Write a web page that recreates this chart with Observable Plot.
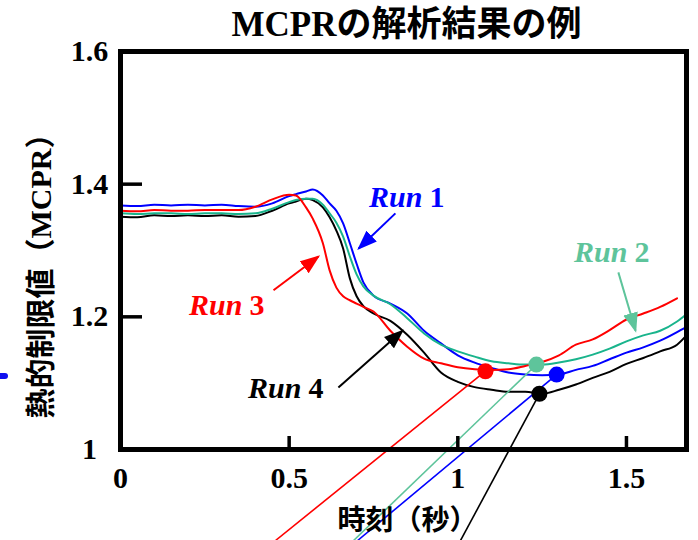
<!DOCTYPE html>
<html>
<head>
<meta charset="utf-8">
<script src="https://cdn.jsdelivr.net/npm/d3@7"></script>
<script src="https://cdn.jsdelivr.net/npm/@observablehq/plot@0.6"></script>
<style>
html, body { margin: 0; padding: 0; background: #fff; overflow: hidden; }
#chart { position: relative; width: 698px; height: 540px; overflow: hidden; }
#blip { position: absolute; left: 0; top: 373px; width: 8px; height: 6px; background: #1010f0; border-radius: 0 3px 3px 0; }
</style>
</head>
<body>
<div id="chart"><div id="blip"></div></div>
<script>
// ---------- data ----------
const title = "MCPRの解析結果の例";
const xLabel = "時刻（秒）";
const yLabel = "熱的制限値（MCPR）";
const xTicks = [0, 0.5, 1, 1.5];
const yTicks = [1, 1.2, 1.4, 1.6];
const innerXTicks = [0.5, 1, 1.5];
const innerYTicks = [1.2, 1.4];

const time = [0, 0.05, 0.1, 0.15, 0.2, 0.25, 0.3, 0.35, 0.4, 0.45,
  0.5, 0.52, 0.55, 0.57, 0.6, 0.62, 0.64, 0.66, 0.68, 0.7,
  0.72, 0.75, 0.8, 0.85, 0.9, 0.95, 1.0, 1.05, 1.1, 1.15,
  1.2, 1.25, 1.3, 1.35, 1.4, 1.45, 1.5, 1.55, 1.6, 1.65, 1.678];

const run1 = [1.368, 1.367, 1.369, 1.368, 1.369, 1.368, 1.369, 1.367, 1.366, 1.371,
  1.382, 1.385, 1.389, 1.392, 1.383, 1.371, 1.360, 1.341, 1.311, 1.280,
  1.252, 1.232, 1.220, 1.205, 1.179, 1.160, 1.142, 1.131, 1.123, 1.116,
  1.113, 1.112, 1.113, 1.120, 1.126, 1.136, 1.146, 1.154, 1.164, 1.177, 1.185];

const run2 = [1.356, 1.355, 1.356, 1.356, 1.355, 1.356, 1.356, 1.355, 1.356, 1.363,
  1.373, 1.376, 1.378, 1.378, 1.369, 1.356, 1.342, 1.321, 1.291, 1.264,
  1.246, 1.232, 1.219, 1.198, 1.175, 1.158, 1.148, 1.140, 1.133, 1.130,
  1.128, 1.128, 1.131, 1.136, 1.143, 1.152, 1.163, 1.172, 1.179, 1.193, 1.204];

const run3 = [1.360, 1.359, 1.361, 1.360, 1.360, 1.361, 1.361, 1.361, 1.366, 1.377,
  1.384, 1.383, 1.365, 1.348, 1.311, 1.270, 1.244, 1.231, 1.225, 1.220,
  1.215, 1.208, 1.179, 1.155, 1.137, 1.130, 1.124, 1.121, 1.120, 1.121,
  1.126, 1.132, 1.142, 1.158, 1.166, 1.180, 1.196, 1.205, 1.215, 1.228, null];

const run4 = [1.351, 1.350, 1.353, 1.352, 1.353, 1.352, 1.353, 1.351, 1.352, 1.360,
  1.371, 1.374, 1.378, 1.376, 1.365, 1.350, 1.330, 1.303, 1.258, 1.231,
  1.216, 1.205, 1.194, 1.173, 1.146, 1.116, 1.102, 1.094, 1.090, 1.087,
  1.087, 1.084, 1.090, 1.098, 1.108, 1.117, 1.129, 1.138, 1.148, 1.158, 1.172];

// runs in order Run 1, Run 2, Run 3, Run 4
const runNames = ["Run", "Run", "Run", "Run"];
const runNumbers = ["1", "2", "3", "4"];
const runValues = [run1, run2, run3, run4];

// marked point on each curve
const markT = [1.293, 1.233, 1.082, 1.242];
const markV = [1.113, 1.128, 1.118, 1.084];
// leader lines leaving each marked point (end below the axis)
const leaderEndT = [0.703, 0.691, 0.4595, 1.008];
const leaderEndV = [0.8628, 0.8628, 0.8628, 0.8628];

// annotation labels and arrows
const labelT = [0.898, 1.506, 0.3646, 0.5395];
const labelV = [1.380, 1.297, 1.217, 1.092];
const arrowFromT = [0.815, 1.476, 0.4536, 0.646];
const arrowFromV = [1.356, 1.267, 1.240, 1.0935];
const arrowToT = [0.706, 1.527, 0.587, 0.836];
const arrowToV = [1.303, 1.179, 1.291, 1.179];

// ---------- styles ----------
const lineColors = ["#0000ff", "#19b48c", "#ff0000", "#000000"];
const accentColors = ["#0000ff", "#5ec49b", "#ff0000", "#000000"];
const drawOrder = [3, 0, 1, 2];
const SERIF = "'Liberation Serif', 'Times New Roman', 'Noto Sans CJK JP', serif";
const MIX = "'Liberation Serif', 'Noto Sans CJK JP', serif";
const CJK = "'Noto Sans CJK JP', sans-serif";

const fmt = d => String(+(+d).toFixed(1));

function triangleHead(color, context) {
  const ns = "http://www.w3.org/2000/svg";
  const doc = (context && context.document) || document;
  const m = doc.createElementNS(ns, "marker");
  m.setAttribute("viewBox", "0 -8 20 16");
  m.setAttribute("markerWidth", 20);
  m.setAttribute("markerHeight", 16);
  m.setAttribute("markerUnits", "userSpaceOnUse");
  m.setAttribute("refX", 18);
  m.setAttribute("refY", 0);
  m.setAttribute("orient", "auto");
  const p = doc.createElementNS(ns, "path");
  p.setAttribute("d", "M0,-7.5L20,0L0,7.5Z");
  p.setAttribute("fill", color);
  p.setAttribute("stroke", "none");
  m.appendChild(p);
  return m;
}

// ---------- marks ----------
const marks = [];

// curves
for (const i of drawOrder) {
  const rows = time.map((t, k) => ({t, v: runValues[i][k]}));
  marks.push(Plot.line(rows, {x: "t", y: "v", stroke: lineColors[i], strokeWidth: 2, curve: "monotone-x"}));
}

// leader lines
for (let i = 0; i < 4; i++) {
  marks.push(Plot.link([i], {
    x1: () => markT[i], y1: () => markV[i], x2: () => leaderEndT[i], y2: () => leaderEndV[i],
    stroke: accentColors[i], strokeWidth: 1.6
  }));
}

// marked dots
for (let i = 0; i < 4; i++) {
  marks.push(Plot.dot([i], {x: () => markT[i], y: () => markV[i], r: 8, fill: accentColors[i], stroke: "none"}));
}

// annotation arrows
for (let i = 0; i < 4; i++) {
  marks.push(Plot.link([i], {
    x1: () => arrowFromT[i], y1: () => arrowFromV[i], x2: () => arrowToT[i], y2: () => arrowToV[i],
    stroke: accentColors[i], strokeWidth: 2, markerEnd: triangleHead
  }));
}

// annotation labels
for (let i = 0; i < 4; i++) {
  marks.push(Plot.text([i], {
    x: () => labelT[i], y: () => labelV[i], text: () => runNames[i],
    textAnchor: "end", dx: -1, fill: accentColors[i], fontFamily: SERIF,
    fontSize: 30, fontWeight: "bold", fontStyle: "italic"
  }));
  marks.push(Plot.text([i], {
    x: () => labelT[i], y: () => labelV[i], text: () => runNumbers[i],
    textAnchor: "start", dx: 6, fill: accentColors[i], fontFamily: SERIF,
    fontSize: 30, fontWeight: "bold"
  }));
}

// inward ticks
marks.push(Plot.tickY(innerYTicks, {y: d => d, insetRight: 566 - 22, stroke: "black", strokeWidth: 3.5}));
marks.push(Plot.tickX(innerXTicks, {x: d => d, insetTop: 398 - 13, stroke: "black", strokeWidth: 3.5}));

// frame
marks.push(Plot.frame({stroke: "black", strokeWidth: 5}));

// axes (labels only)
marks.push(Plot.axisY({ticks: yTicks, anchor: "left", tickSize: 0, tickPadding: 31, textAnchor: "middle",
  fontSize: 30, fontWeight: "bold", fontFamily: SERIF, tickFormat: fmt, label: null, fill: "black"}));
marks.push(Plot.axisX({ticks: xTicks, anchor: "bottom", tickSize: 0, tickPadding: 17,
  fontSize: 30, fontWeight: "bold", fontFamily: SERIF, tickFormat: fmt, label: null, fill: "black"}));

// titles
marks.push(Plot.text([title], {text: d => d, frameAnchor: "top", dy: -27, dx: 3, lineAnchor: "middle",
  textAnchor: "middle", fontSize: 35, fontWeight: "bold", fontFamily: MIX, fill: "black"}));
marks.push(Plot.text([yLabel], {text: d => d, frameAnchor: "left", rotate: -90, dx: -79, dy: 18,
  lineAnchor: "middle", textAnchor: "middle", fontSize: 30, fontWeight: "bold", fontFamily: MIX, fill: "black"}));
marks.push(Plot.text([xLabel], {text: d => d, frameAnchor: "bottom", dy: 72, dx: 4, lineAnchor: "middle",
  textAnchor: "middle", fontSize: 28, fontWeight: "bold", fontFamily: CJK, fill: "black"}));

const plot = Plot.plot({
  width: 698,
  height: 540,
  marginTop: 51,
  marginRight: 12,
  marginBottom: 91,
  marginLeft: 120,
  x: {domain: [0, 1.678], label: null},
  y: {domain: [1, 1.6], label: null},
  style: {fontFamily: SERIF, background: "white", overflow: "visible"},
  marks
});
document.getElementById("chart").prepend(plot);
</script>
</body>
</html>
